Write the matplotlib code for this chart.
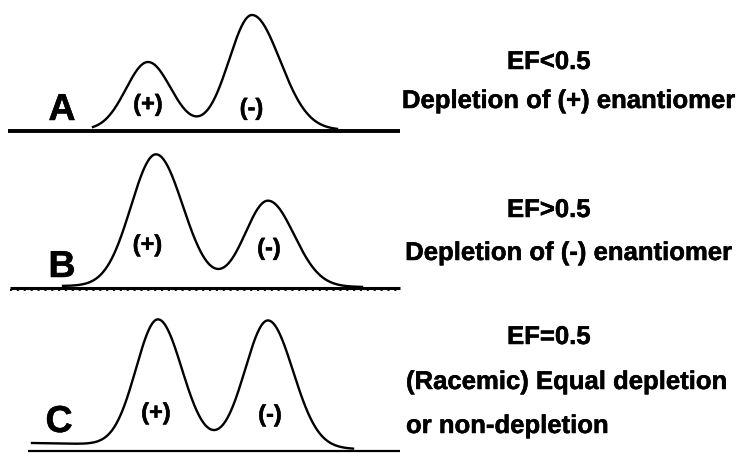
import numpy as np
import matplotlib
matplotlib.use("Agg")
import matplotlib.pyplot as plt
import matplotlib.patheffects as pe

# Panel data (pixel-like units, y downward)
panels = ["A", "B", "C"]
baseline_y = [130.5, 288, 451]            # axis line level
axis_x0 = [8, 10, 28]
axis_x1 = [400, 400, 400]
curve_x0 = [93, 63, 32]
curve_x1 = [337, 362, 353]
curve_base_left = [130, 286, 443]
curve_base_right = [130, 287, 449]
peak_centers = [[148, 252], [156, 268], [158, 268]]
peak_heights = [[68, 115], [132, 86], [126, 127]]
peak_sig_left = [[22, 23], [25, 23], [22, 23]]
peak_sig_right = [[23, 28], [27, 26], [24, 25]]

letter_pos = [(62, 120), (62, 277), (59, 432)]
plus_pos = [(148, 104.5), (147.5, 245), (156, 413)]
minus_pos = [(251.5, 108.5), (269, 248.5), (270, 415)]

ef_labels = ["EF<0.5", "EF>0.5", "EF=0.5"]
ef_y = [62, 210, 337]
desc_lines = [["Depletion of (+) enantiomer"],
              ["Depletion of (-) enantiomer"],
              ["(Racemic) Equal depletion", "or non-depletion"]]
desc_y = [[101], [253], [382, 426]]

plt.rcParams['font.family'] = ['Liberation Sans', 'DejaVu Sans']

fig = plt.figure(figsize=(7.44, 4.53), dpi=100)
ax = fig.add_axes([0, 0, 1, 1])
ax.set_xlim(0, 744)
ax.set_ylim(453, 0)
ax.axis('off')

heavy = [pe.withStroke(linewidth=0.35, foreground='black')]

axis_lw = [2.8, 2.2, 1.6]
for i in range(3):
    ax.plot([axis_x0[i], axis_x1[i]], [baseline_y[i], baseline_y[i]],
            color='black', lw=axis_lw[i], solid_capstyle='butt')
    if i == 1:
        ax.plot([axis_x0[i], axis_x1[i]], [baseline_y[i] + 2.0, baseline_y[i] + 2.0],
                color='black', lw=1.3, ls=(0, (1.2, 2.6)))
    x = np.linspace(curve_x0[i], curve_x1[i], 800)
    base = np.interp(x, [curve_x0[i], curve_x1[i]],
                     [curve_base_left[i], curve_base_right[i]])
    sig = np.zeros_like(x)
    for c, h, sl, sr in zip(peak_centers[i], peak_heights[i],
                            peak_sig_left[i], peak_sig_right[i]):
        s = np.where(x < c, sl, sr)
        sig += h * np.exp(-(x - c) ** 2 / (2 * s ** 2))
    ax.plot(x, base - sig, color='black', lw=1.7)

    lx, ly = letter_pos[i]
    ax.text(lx, ly, panels[i], fontsize=27, fontweight='bold',
            ha='center', va='baseline', path_effects=heavy)
    ax.text(plus_pos[i][0], plus_pos[i][1], "(+)", fontsize=17,
            fontweight='bold', ha='center', va='center', path_effects=heavy)
    ax.text(minus_pos[i][0], minus_pos[i][1], "(-)", fontsize=17,
            fontweight='bold', ha='center', va='center', path_effects=heavy)

    ax.text(549, ef_y[i], ef_labels[i], fontsize=18.5, fontweight='bold',
            ha='center', va='center', path_effects=heavy)

for i in range(3):
    for txt, yy in zip(desc_lines[i], desc_y[i]):
        if i < 2:
            ax.text(569, yy, txt, fontsize=18.5, fontweight='bold',
                    ha='center', va='center', path_effects=heavy)
        else:
            ax.text(406, yy, txt, fontsize=18.5, fontweight='bold',
                    ha='left', va='center', path_effects=heavy)

fig.savefig("out.png", dpi=100)
